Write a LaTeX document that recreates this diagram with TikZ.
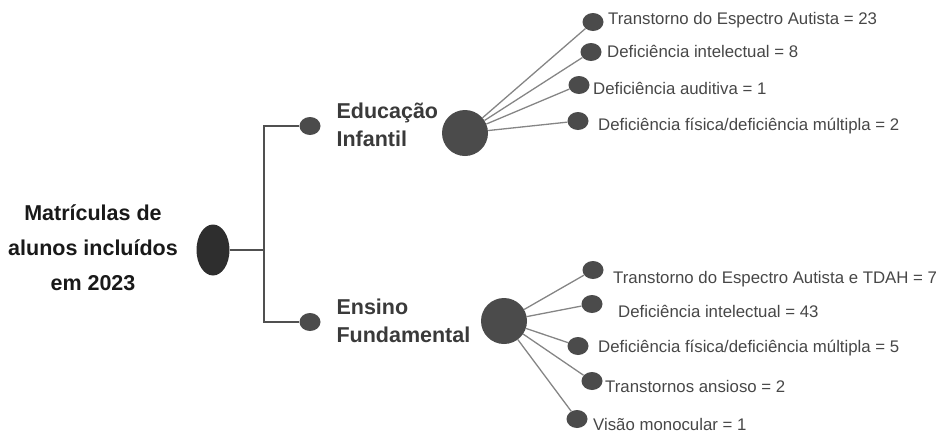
\documentclass[tikz,border=0pt]{standalone}
\usepackage{fontspec}
\setmainfont{Liberation Sans}
\usepackage{xcolor}
\usetikzlibrary{shapes.geometric}
\definecolor{dotgray}{HTML}{4B4B4B}
\definecolor{rootgray}{HTML}{2E2E2E}
\definecolor{spokegray}{HTML}{858585}
\definecolor{linegray}{HTML}{505050}
\definecolor{labelgray}{HTML}{474747}
\definecolor{headgray}{HTML}{3A3A3A}

\begin{document}
\begin{tikzpicture}[
    x = 1pt, y = -1pt,
    rootnode/.style = {ellipse, fill = rootgray, inner sep = 0pt, minimum width = 33pt, minimum height = 51pt},
    leveldot/.style = {ellipse, fill = dotgray, inner sep = 0pt, minimum width = 21pt, minimum height = 18pt},
    hub/.style = {circle, fill = dotgray, inner sep = 0pt, minimum size = 46pt},
    leafdot/.style = {ellipse, fill = dotgray, inner sep = 0pt, minimum width = 21pt, minimum height = 18pt},
    roottext/.style = {align = center, font = \fontsize{21.5}{35}\selectfont\bfseries, text = black!90},
    headtext/.style = {anchor = base west, font = \fontsize{21.5}{28}\selectfont\bfseries, text = headgray},
    leaftext/.style = {anchor = base west, inner sep = 0pt, font = \fontsize{16.8}{20}\selectfont, text = labelgray},
    bracket/.style = {draw = linegray, line width = 1.3pt},
    spoke/.style = {draw = spokegray, line width = 1.3pt},
    ]
    \useasboundingbox (0,0) rectangle (937,432);

    % draw root
    \node [roottext] (title) at (93,248) {Matrículas de\\alunos incluídos\\em 2023};
    \node [rootnode] (root) at (213,250) {};
    \coordinate (fork) at (264,250);

    % draw levels
    \node [leveldot] (eidot) at (310,126) {};
    \node [leveldot] (efdot) at (310,322) {};
    \node [headtext] (eihead1) at (333,118) {Educação};
    \node [headtext] (eihead2) at (333,146) {Infantil};
    \node [headtext] (efhead1) at (333,314) {Ensino};
    \node [headtext] (efhead2) at (333,342) {Fundamental};

    % draw hubs
    \node [hub] (eihub) at (465,133) {};
    \node [hub] (efhub) at (504,321) {};

    % draw leaves of Educação Infantil
    \node [leafdot] (ei1) at (593,22) {};
    \node [leafdot] (ei2) at (591,52) {};
    \node [leafdot] (ei3) at (579,85) {};
    \node [leafdot] (ei4) at (578,121) {};
    \node [leaftext] (ei1txt) at (608,24) {Transtorno do Espectro Autista = 23};
    \node [leaftext] (ei2txt) at (607,57) {Deficiência intelectual = 8};
    \node [leaftext] (ei3txt) at (593,94) {Deficiência auditiva = 1};
    \node [leaftext] (ei4txt) at (598,130) {Deficiência física/deficiência múltipla = 2};

    % draw leaves of Ensino Fundamental
    \node [leafdot] (ef1) at (593,270) {};
    \node [leafdot] (ef2) at (592,304) {};
    \node [leafdot] (ef3) at (578,346) {};
    \node [leafdot] (ef4) at (592,381) {};
    \node [leafdot] (ef5) at (577,419) {};
    \node [leaftext] (ef1txt) at (613,283) {Transtorno do Espectro Autista e TDAH = 7};
    \node [leaftext] (ef2txt) at (618,317) {Deficiência intelectual = 43};
    \node [leaftext] (ef3txt) at (598,352) {Deficiência física/deficiência múltipla = 5};
    \node [leaftext] (ef4txt) at (605,392) {Transtornos ansioso = 2};
    \node [leaftext] (ef5txt) at (593,430) {Visão monocular = 1};

    % draw paths
    \draw [bracket] (root) -- (fork);
    \draw [bracket] (eidot) -| (fork) |- (efdot);
    \foreach \i in {1,...,4}
        \draw [spoke] (eihub) -- (ei\i);
    \foreach \i in {1,...,5}
        \draw [spoke] (efhub) -- (ef\i);
\end{tikzpicture}
\end{document}
